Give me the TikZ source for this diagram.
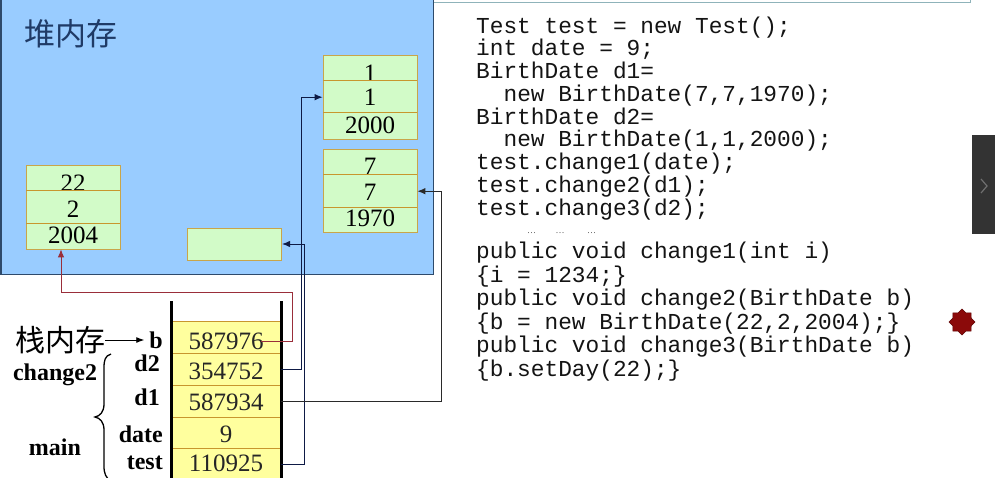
\documentclass[tikz,border=0pt]{standalone}
\usepackage{fontspec}
\setmainfont{Liberation Serif}
\setmonofont{Liberation Mono}
\newfontfamily\cjk{Noto Sans CJK SC}
\newfontfamily\sansui{Liberation Sans}
\usetikzlibrary{arrows.meta,shapes.geometric}
\definecolor{heapfill}{HTML}{99CCFF}
\definecolor{heapborder}{HTML}{2E4A6B}
\definecolor{heaptitle}{HTML}{1F3A66}
\definecolor{objfill}{HTML}{D2FBC8}
\definecolor{objborder}{HTML}{C9A54A}
\definecolor{divcol}{HTML}{C8962E}
\definecolor{stackfill}{HTML}{FFFF9E}
\definecolor{navyline}{HTML}{0E1A45}
\definecolor{greyline}{HTML}{2A2A2A}
\definecolor{redline}{HTML}{9A2E3A}
\definecolor{toplinecol}{HTML}{8FB3BA}
\definecolor{tabfill}{HTML}{333333}
\definecolor{chevron}{HTML}{707070}
\definecolor{starred}{HTML}{8B0A0A}
\tikzset{
  objbox/.style={draw=objborder, fill=objfill, line width=0.8pt, inner sep=0pt},
  objdiv/.style={draw=divcol, line width=0.8pt},
  heapnum/.style={font=\fontsize{25}{25}\selectfont, inner sep=0pt, text=black},
  stackval/.style={font=\fontsize{25}{25}\selectfont, inner sep=0pt, text=black!85},
  stackcell/.style={minimum width=110pt, minimum height=31.7pt, inner sep=0pt},
  varlabel/.style={font=\fontsize{24}{24}\selectfont\bfseries, inner sep=0pt, anchor=east},
  grouplabel/.style={font=\fontsize{24}{24}\selectfont\bfseries, inner sep=0pt},
  codeline/.style={font=\fontsize{22.8}{22.8}\selectfont\ttfamily, inner sep=0pt, anchor=base west, text=black!92},
  conn/.style={line width=0.9pt, -{Latex[length=8pt,width=6.5pt]}},
}
\begin{document}
\begin{tikzpicture}[x=1pt,y=-1pt]
\useasboundingbox (0,0) rectangle (995,478);
\fill[white] (0,0) rectangle (995,478);

% top-right frame edge
\draw[toplinecol, line width=1pt] (434,3) -- (970.5,3) -- (970.5,-2);

% heap
\draw[fill=heapfill, draw=heapborder, line width=1.6pt] (1,-2) rectangle (433.5,274.5);
\node[font=\cjk\fontsize{31}{31}\selectfont, text=heaptitle, inner sep=0pt] (heaptitle) at (71,34) {堆内存};

% heap objects
\node[objbox, minimum width=94pt, minimum height=83.5pt] (objA) at (370,97.2) {};
\node[objbox, minimum width=94pt, minimum height=83pt] (objB) at (370,191.2) {};
\node[objbox, minimum width=94pt, minimum height=84pt] (objC) at (73,207) {};
\node[objbox, minimum width=94pt, minimum height=32pt] (objD) at (234.7,244) {};

\node[heapnum] (a1) at (370,73) {1};
\node[heapnum] (a2) at (370,97) {1};
\node[heapnum] (a3) at (370,125) {2000};
\node[heapnum] (b1) at (370,166) {7};
\node[heapnum] (b2) at (370,192.5) {7};
\node[heapnum] (b3) at (370,218.5) {1970};
\node[heapnum] (c1) at (73,183) {22};
\node[heapnum] (c2) at (73,209) {2};
\node[heapnum] (c3) at (73,235) {2004};

\draw[objdiv] (323,80.7) -- (417,80.7);
\draw[objdiv] (323,112.7) -- (417,112.7);
\draw[objdiv] (323,174) -- (417,174);
\draw[objdiv] (323,207.3) -- (417,207.3);
\draw[objdiv] (26,190.3) -- (120,190.3);
\draw[objdiv] (26,223) -- (120,223);

% stack
\fill[stackfill] (171,321.7) rectangle (281,482);
\node[stackcell] (sb) at (226,337.5) {};
\node[stackcell] (sd2) at (226,369.3) {};
\node[stackcell] (sd1) at (226,401.2) {};
\node[stackcell] (sdate) at (226,432.9) {};
\node[stackcell] (stest) at (226,464.3) {};
\foreach \yy in {321.7,353.3,385.3,417,448.7}
  \draw[divcol, line width=0.9pt] (171,\yy) -- (281,\yy);
\node[stackval] (vb) at (226,341) {587976};
\node[stackval] (vd2) at (226,371) {354752};
\node[stackval] (vd1) at (226,402.7) {587934};
\node[stackval] (vdate) at (226,434) {9};
\node[stackval] (vtest) at (226,463) {110925};
\draw[line width=3pt] (171,301) -- (171,482);
\draw[line width=3pt] (281,301) -- (281,482);

% stack labels
\node[varlabel] (lb) at (163,340) {b};
\node[varlabel] (ld2) at (160,363) {d2};
\node[varlabel] (ld1) at (160,397) {d1};
\node[varlabel] (ldate) at (163,434) {date};
\node[varlabel] (ltest) at (163,463) {test};
\node[grouplabel] (gchange) at (55,375) {change2};
\node[grouplabel] (gmain) at (55,447) {main};
\node[font=\cjk\fontsize{30}{30}\selectfont, inner sep=0pt] (stacktitle) at (60,340) {栈内存};
\draw[line width=0.9pt, -{Latex[length=8pt,width=6pt]}] (stacktitle.east) -- ([xshift=-5pt]lb.west);

% brace
\draw[line width=1.3pt] (111,354) .. controls (105,356) and (104,360) .. (104,368) -- (104,404)
  .. controls (104,412) and (100,416) .. (95,417) .. controls (100,418) and (104,422) .. (104,430)
  -- (104,466) .. controls (104,474) and (106,478) .. (111,481);

% connectors
\coordinate (rstart) at (261,341);
\draw[conn, redline] (rstart) -- (292,341) -- (292,292) -| ([xshift=-12pt]objC.south);
\draw[conn, navyline] (sd2.east) -| ([xshift=-21pt]objA.west) -- (objA.west);
\draw[conn, navyline] (stest.east) -| ([xshift=22.5pt]objD.east) -- (objD.east);
\draw[conn, greyline] (sd1.east) -| ([xshift=24pt]objB.east) -- (objB.east);

% code
\node[codeline] (c01) at (476,33.3) {Test test = new Test();};
\node[codeline] (c02) at (476,56) {int date = 9;};
\node[codeline] (c03) at (476,78.8) {BirthDate d1=};
\node[codeline] (c04) at (476,101.5) {\ \ new BirthDate(7,7,1970);};
\node[codeline] (c05) at (476,124.2) {BirthDate d2=};
\node[codeline] (c06) at (476,147) {\ \ new BirthDate(1,1,2000);};
\node[codeline] (c07) at (476,169.7) {test.change1(date);};
\node[codeline] (c08) at (476,192.4) {test.change2(d1);};
\node[codeline] (c09) at (476,215.2) {test.change3(d2);};
\foreach \xx/\nm in {531.5/d1,560/d2,591.5/d3}
  \node[font=\fontsize{9}{9}\selectfont, inner sep=0pt, text=black!70] (\nm) at (\xx,233) {…};
\node[codeline] (c10) at (476,258.5) {public void change1(int i)};
\node[codeline] (c11) at (476,282) {\{i = 1234;\}};
\node[codeline] (c12) at (476,305.5) {public void change2(BirthDate b)};
\node[codeline] (c13) at (476,329) {\{b = new BirthDate(22,2,2004);\}};
\node[codeline] (c14) at (476,352.5) {public void change3(BirthDate b)};
\node[codeline] (c15) at (476,376) {\{b.setDay(22);\}};

% decorations on the right
\node[star, star points=8, star point ratio=1.3, fill=starred, draw=starred!70!black, line width=0.5pt, minimum size=26pt, inner sep=0pt] (mark) at (962,322) {};
\fill[tabfill] (972,135) rectangle (996,234.5);
\draw[chevron, line width=1.2pt] (981,179) -- (987,186) -- (981,193);
\end{tikzpicture}
\end{document}
